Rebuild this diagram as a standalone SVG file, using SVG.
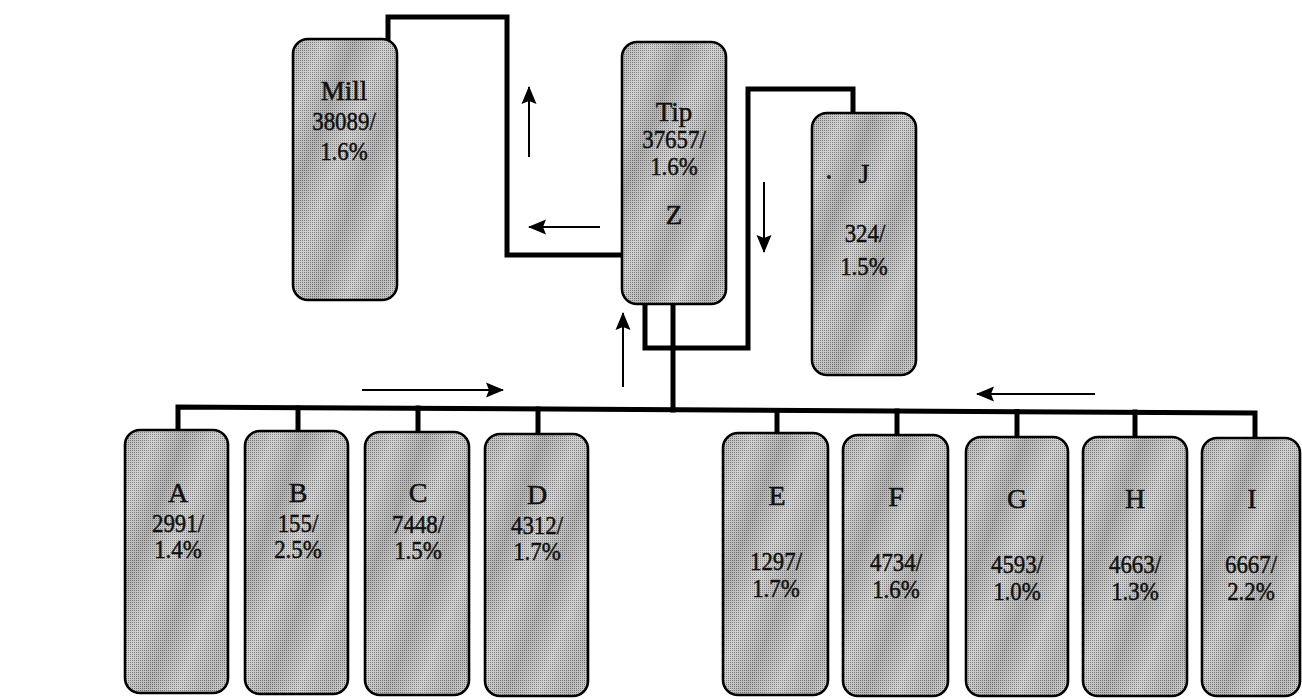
<svg xmlns="http://www.w3.org/2000/svg" width="1302" height="699" viewBox="0 0 1302 699">
<defs>
<pattern id="ht" width="2" height="2" patternUnits="userSpaceOnUse">
<rect width="2" height="2" fill="#cdcdcd"/>
<rect width="1" height="1" fill="#767676"/>
</pattern>
<linearGradient id="streak" x1="0" y1="0" x2="1" y2="1">
<stop offset="0" stop-color="#000" stop-opacity="0.08"/>
<stop offset="0.15" stop-color="#fff" stop-opacity="0.12"/>
<stop offset="0.3" stop-color="#000" stop-opacity="0.12"/>
<stop offset="0.45" stop-color="#fff" stop-opacity="0.1"/>
<stop offset="0.6" stop-color="#000" stop-opacity="0.1"/>
<stop offset="0.75" stop-color="#fff" stop-opacity="0.12"/>
<stop offset="0.9" stop-color="#000" stop-opacity="0.08"/>
<stop offset="1" stop-color="#fff" stop-opacity="0.1"/>
</linearGradient>
<marker id="ah" markerUnits="userSpaceOnUse" markerWidth="18" markerHeight="18" viewBox="0 0 18 18" refX="17" refY="9" orient="auto">
<path d="M0,1.5 L18,9 L0,16.5 L3,9 Z" fill="#000"/>
</marker>
</defs>
<style>
.bg{fill:url(#ht)}
.box{fill:url(#streak);stroke:#000;stroke-width:2.6}
.link{fill:none;stroke:#000;stroke-width:5;stroke-linejoin:miter;stroke-linecap:square}
.arr{fill:none;stroke:#000;stroke-width:2;marker-end:url(#ah)}
text{font-family:"Liberation Serif","Times New Roman",serif;fill:#111;stroke:#111;stroke-width:0.5;text-anchor:middle}
.t{font-size:27px}
.l{font-size:28px}
.n{font-size:26px;transform-box:fill-box;transform-origin:center;transform:scaleX(0.88)}
</style>

<g id="connectors">
<path class="link" d="M388,40 V17 H507 V255 H622"/>
<path class="link" d="M853,113 V89 H748 V348 H645 V304"/>
<path class="link" d="M673,304 V410"/>
<path class="link" d="M178,430 V407 L1255,413 V438"/>
<path class="link" d="M298,408 V431"/>
<path class="link" d="M418,408 V432"/>
<path class="link" d="M538,409 V434"/>
<path class="link" d="M777,410.5 V433"/>
<path class="link" d="M897,411 V435"/>
<path class="link" d="M1017,411.5 V437"/>
<path class="link" d="M1135,412 V437"/>
<path class="arr" d="M529,157 V87"/>
<path class="arr" d="M600,227 H529"/>
<path class="arr" d="M764,182 V252"/>
<path class="arr" d="M623,387 V313"/>
<path class="arr" d="M362,390 H503"/>
<path class="arr" d="M1095,394 H977"/>
</g>

<g id="mill">
<rect class="bg" x="293" y="39" width="104" height="261" rx="15"/>
<rect class="box" x="293" y="39" width="104" height="261" rx="15"/>
<text class="t" x="344" y="100">Mill</text>
<text class="n" x="344" y="130">38089/</text>
<text class="n" x="344" y="160">1.6%</text>
</g>

<g id="tip">
<rect class="bg" x="622" y="42" width="104" height="262" rx="15"/>
<rect class="box" x="622" y="42" width="104" height="262" rx="15"/>
<text class="t" x="674" y="121">Tip</text>
<text class="n" x="674" y="148">37657/</text>
<text class="n" x="674" y="175">1.6%</text>
<text class="t" x="674" y="224">Z</text>
</g>

<g id="J">
<rect class="bg" x="812" y="113" width="104" height="262" rx="15"/>
<rect class="box" x="812" y="113" width="104" height="262" rx="15"/>
<circle cx="829" cy="177" r="2" fill="#222"/>
<text class="l" x="864" y="183">J</text>
<text class="n" x="865" y="242">324/</text>
<text class="n" x="864" y="275">1.5%</text>
</g>

<g id="A">
<rect class="bg" x="125" y="430" width="103" height="263" rx="15"/>
<rect class="box" x="125" y="430" width="103" height="263" rx="15"/>
<text class="l" x="178" y="502">A</text>
<text class="n" x="178" y="532">2991/</text>
<text class="n" x="178" y="558">1.4%</text>
</g>

<g id="B">
<rect class="bg" x="245" y="431" width="103" height="263" rx="15"/>
<rect class="box" x="245" y="431" width="103" height="263" rx="15"/>
<text class="l" x="298" y="502">B</text>
<text class="n" x="298" y="532">155/</text>
<text class="n" x="298" y="558">2.5%</text>
</g>

<g id="C">
<rect class="bg" x="365" y="432" width="104" height="263" rx="15"/>
<rect class="box" x="365" y="432" width="104" height="263" rx="15"/>
<text class="l" x="418" y="502">C</text>
<text class="n" x="418" y="533">7448/</text>
<text class="n" x="418" y="559">1.5%</text>
</g>

<g id="D">
<rect class="bg" x="485" y="434" width="103" height="262" rx="15"/>
<rect class="box" x="485" y="434" width="103" height="262" rx="15"/>
<text class="l" x="537" y="504">D</text>
<text class="n" x="537" y="534">4312/</text>
<text class="n" x="537" y="560">1.7%</text>
</g>

<g id="E">
<rect class="bg" x="723" y="433" width="105" height="262" rx="15"/>
<rect class="box" x="723" y="433" width="105" height="262" rx="15"/>
<text class="l" x="777" y="505">E</text>
<text class="n" x="776" y="570">1297/</text>
<text class="n" x="776" y="597">1.7%</text>
</g>

<g id="F">
<rect class="bg" x="843" y="435" width="105" height="261" rx="15"/>
<rect class="box" x="843" y="435" width="105" height="261" rx="15"/>
<text class="l" x="896" y="506">F</text>
<text class="n" x="896" y="571">4734/</text>
<text class="n" x="896" y="598">1.6%</text>
</g>

<g id="G">
<rect class="bg" x="966" y="437" width="102" height="259" rx="15"/>
<rect class="box" x="966" y="437" width="102" height="259" rx="15"/>
<text class="l" x="1017" y="508">G</text>
<text class="n" x="1017" y="573">4593/</text>
<text class="n" x="1017" y="600">1.0%</text>
</g>

<g id="H">
<rect class="bg" x="1083" y="437" width="104" height="259" rx="15"/>
<rect class="box" x="1083" y="437" width="104" height="259" rx="15"/>
<text class="l" x="1135" y="508">H</text>
<text class="n" x="1135" y="573">4663/</text>
<text class="n" x="1135" y="600">1.3%</text>
</g>

<g id="I">
<rect class="bg" x="1202" y="438" width="98" height="258" rx="15"/>
<rect class="box" x="1202" y="438" width="98" height="258" rx="15"/>
<text class="l" x="1252" y="508">I</text>
<text class="n" x="1251" y="573">6667/</text>
<text class="n" x="1251" y="600">2.2%</text>
</g>
</svg>
